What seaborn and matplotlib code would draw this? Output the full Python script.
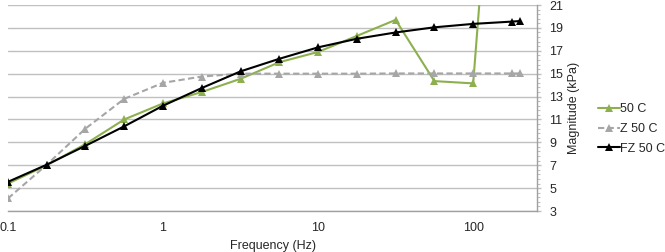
import numpy as np
import pandas as pd
import seaborn as sns
import matplotlib.pyplot as plt
from matplotlib.ticker import FixedLocator, FuncFormatter, LogLocator, NullFormatter

# Frequency sweep (Hz)
freq = [0.1, 0.178, 0.316, 0.562, 1.0, 1.78, 3.16, 5.62, 10.0, 17.8, 31.6, 56.2, 100.0, 178.0, 200.0]

# Magnitude (kPa) for each sample
mag_50c = [5.4, 7.0, 8.85, 11.0, 12.4, 13.4, 14.55, 16.0, 16.9, 18.3, 19.7, 14.35, 14.15, 58.0, 60.0]
mag_z50c = [4.1, 7.05, 10.2, 12.8, 14.2, 14.75, 15.0, 15.0, 15.0, 15.0, 15.02, 15.02, 15.02, 15.02, 15.02]
mag_fz50c = [5.55, 7.05, 8.7, 10.4, 12.2, 13.75, 15.2, 16.3, 17.3, 18.05, 18.6, 19.05, 19.35, 19.55, 19.6]

series_names = ["50 C", "Z 50 C", "FZ 50 C"]
series_colors = {"50 C": "#8DB04F", "Z 50 C": "#A6A6A6", "FZ 50 C": "#000000"}

df = pd.concat(
    [
        pd.DataFrame({"Frequency": freq, "Magnitude": vals, "Series": name})
        for name, vals in zip(series_names, [mag_50c, mag_z50c, mag_fz50c])
    ],
    ignore_index=True,
)

sns.set_style("white")
plt.rcParams["font.family"] = ["Liberation Sans", "DejaVu Sans"]
plt.rcParams["font.size"] = 9

fig = plt.figure(figsize=(6.65, 2.52), dpi=100)
ax = fig.add_axes([8 / 665, 41 / 252, 529 / 665, 206 / 252])

sns.lineplot(
    data=df,
    x="Frequency",
    y="Magnitude",
    hue="Series",
    style="Series",
    hue_order=series_names,
    style_order=series_names,
    palette=series_colors,
    dashes={"50 C": "", "Z 50 C": (3, 1.6), "FZ 50 C": ""},
    markers={"50 C": "^", "Z 50 C": "^", "FZ 50 C": "^"},
    markersize=5.5,
    markeredgewidth=0,
    linewidth=1.5,
    ax=ax,
    legend=False,
)

ax.set_xscale("log")
ax.set_xlim(0.1, 258)
ax.set_ylim(3, 21)

# Horizontal gridlines
ax.set_yticks(np.arange(3, 22, 2))
ax.yaxis.set_minor_locator(FixedLocator(np.arange(3, 21.01, 0.4)))
ax.yaxis.grid(True, color="#C0C0C0", linewidth=1)
ax.xaxis.grid(False)
ax.set_axisbelow(True)

# Right-hand value axis
ax.yaxis.tick_right()
ax.yaxis.set_label_position("right")
ax.set_ylabel("Magnitude (kPa)", fontsize=9, labelpad=3)
ax.set_xlabel("Frequency (Hz)", fontsize=9, labelpad=4)

ax.xaxis.set_major_locator(LogLocator(base=10))
ax.xaxis.set_minor_locator(LogLocator(base=10, subs=np.arange(2, 10)))
ax.xaxis.set_minor_formatter(NullFormatter())
ax.xaxis.set_major_formatter(FuncFormatter(lambda v, p: f"{v:g}"))

ax.tick_params(axis="x", which="major", direction="out", length=4, width=1, color="#A0A0A0", labelsize=9, pad=4)
ax.tick_params(axis="x", which="minor", direction="out", length=2.5, width=0.8, color="#A0A0A0")
ax.tick_params(axis="y", which="major", direction="out", length=3, width=1, color="#C0C0C0", labelsize=9, pad=6)
ax.tick_params(axis="y", which="minor", direction="out", length=2, width=0.8, color="#C0C0C0")

for side, spine in ax.spines.items():
    if side in ("bottom", "right"):
        spine.set_visible(True)
        spine.set_color("#A0A0A0")
        spine.set_linewidth(1)
    else:
        spine.set_visible(False)

# Legend to the right of the value axis
handles = [
    plt.Line2D([], [], color=series_colors["50 C"], marker="^", markersize=5.5, markeredgewidth=0, linewidth=1.5),
    plt.Line2D([], [], color=series_colors["Z 50 C"], marker="^", markersize=5.5, markeredgewidth=0, linewidth=1.5, dashes=(3, 1.6)),
    plt.Line2D([], [], color=series_colors["FZ 50 C"], marker="^", markersize=5.5, markeredgewidth=0, linewidth=1.5),
]
fig.legend(
    handles,
    series_names,
    loc="center left",
    bbox_to_anchor=(592 / 665, 123 / 252),
    frameon=False,
    fontsize=9,
    handlelength=1.7,
    handletextpad=0.05,
    labelspacing=0.6,
    borderpad=0,
)

plt.savefig("out.png", dpi=100)
plt.close()
